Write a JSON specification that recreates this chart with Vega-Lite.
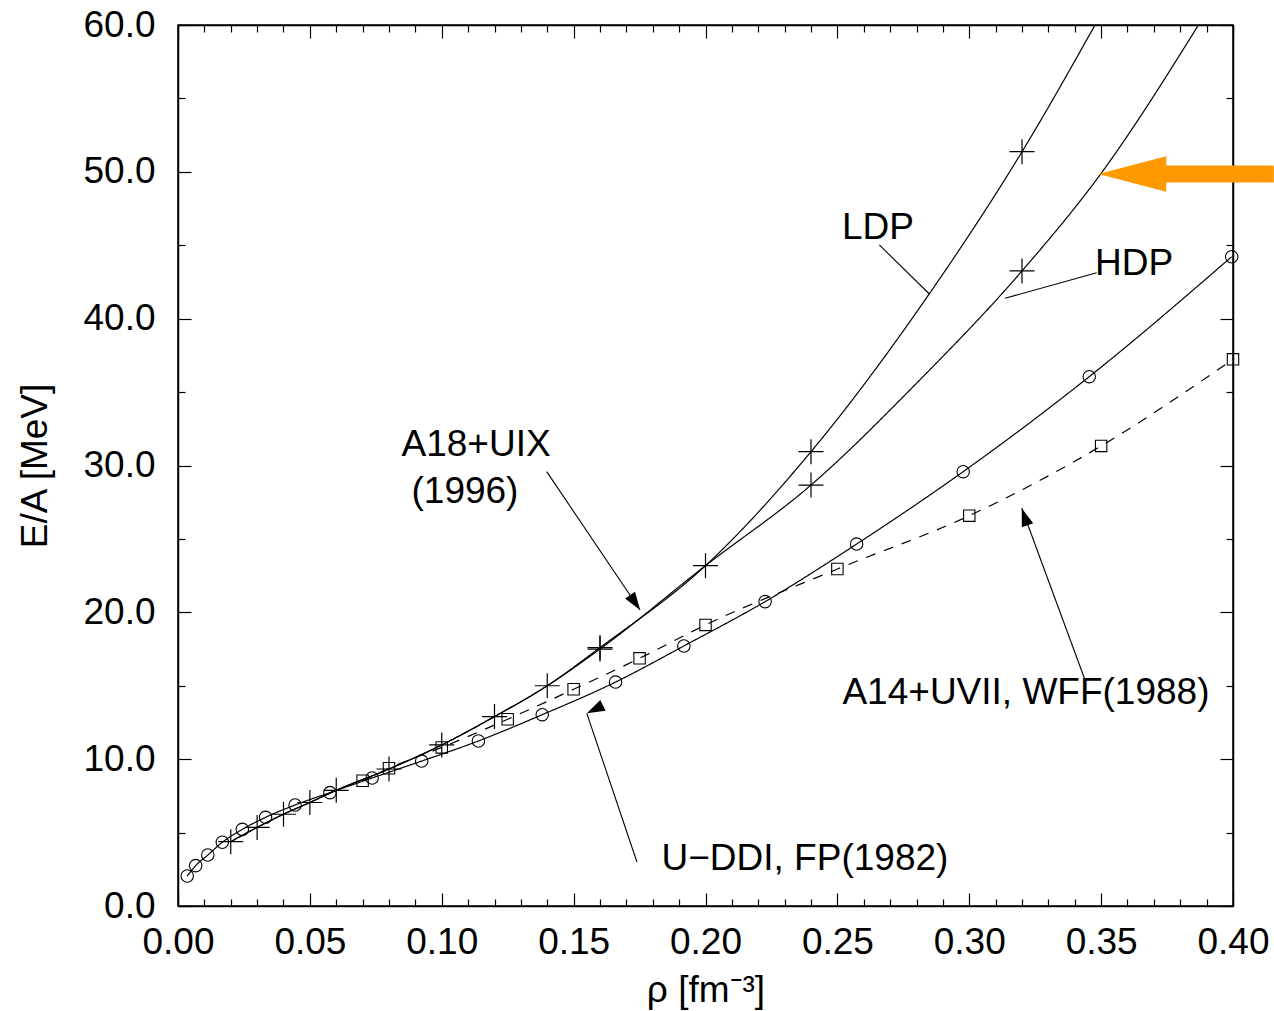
{
  "$schema": "https://vega.github.io/schema/vega-lite/v6.json",
  "width": 1055,
  "height": 881,
  "autosize": "none",
  "padding": {"left": 178, "top": 25, "right": 41, "bottom": 105},
  "background": "white",
  "config": {
    "view": {"stroke": "black", "strokeWidth": 1.5},
    "font": "Liberation Sans",
    "axis": {
      "domainColor": "black", "domainWidth": 1.5,
      "tickColor": "black", "tickWidth": 1.2,
      "labelColor": "black", "titleColor": "black", "grid": false,
      "labelFont": "Liberation Sans", "titleFont": "Liberation Sans",
      "labelFontSize": 37, "titleFontSize": 37, "titleFontWeight": "normal"
    }
  },
  "datasets": {
    "curves": [
      {"series": "LDP", "rho": 0.02, "E": 4.38},
      {"series": "LDP", "rho": 0.03, "E": 5.35},
      {"series": "LDP", "rho": 0.04, "E": 6.25},
      {"series": "LDP", "rho": 0.05, "E": 7.05},
      {"series": "LDP", "rho": 0.06, "E": 7.88},
      {"series": "LDP", "rho": 0.08, "E": 9.33},
      {"series": "LDP", "rho": 0.10, "E": 10.97},
      {"series": "LDP", "rho": 0.12, "E": 12.9},
      {"series": "LDP", "rho": 0.14, "E": 15.0},
      {"series": "LDP", "rho": 0.16, "E": 17.6},
      {"series": "LDP", "rho": 0.20, "E": 23.18},
      {"series": "LDP", "rho": 0.24, "E": 30.94},
      {"series": "LDP", "rho": 0.285, "E": 41.73},
      {"series": "LDP", "rho": 0.32, "E": 51.37},
      {"series": "LDP", "rho": 0.3477, "E": 60.0},
      {"series": "HDP", "rho": 0.02, "E": 4.38},
      {"series": "HDP", "rho": 0.03, "E": 5.35},
      {"series": "HDP", "rho": 0.04, "E": 6.25},
      {"series": "HDP", "rho": 0.05, "E": 7.05},
      {"series": "HDP", "rho": 0.06, "E": 7.88},
      {"series": "HDP", "rho": 0.08, "E": 9.33},
      {"series": "HDP", "rho": 0.10, "E": 10.97},
      {"series": "HDP", "rho": 0.12, "E": 12.9},
      {"series": "HDP", "rho": 0.14, "E": 15.0},
      {"series": "HDP", "rho": 0.16, "E": 17.5},
      {"series": "HDP", "rho": 0.20, "E": 23.18},
      {"series": "HDP", "rho": 0.24, "E": 28.67},
      {"series": "HDP", "rho": 0.28, "E": 35.6},
      {"series": "HDP", "rho": 0.32, "E": 43.25},
      {"series": "HDP", "rho": 0.3496, "E": 49.8},
      {"series": "HDP", "rho": 0.3869, "E": 60.0},
      {"series": "UDDI", "rho": 0.0035, "E": 2.04},
      {"series": "UDDI", "rho": 0.0067, "E": 2.75},
      {"series": "UDDI", "rho": 0.0113, "E": 3.47},
      {"series": "UDDI", "rho": 0.0168, "E": 4.34},
      {"series": "UDDI", "rho": 0.0244, "E": 5.22},
      {"series": "UDDI", "rho": 0.0332, "E": 6.04},
      {"series": "UDDI", "rho": 0.0444, "E": 6.88},
      {"series": "UDDI", "rho": 0.0576, "E": 7.72},
      {"series": "UDDI", "rho": 0.0736, "E": 8.72},
      {"series": "UDDI", "rho": 0.0924, "E": 9.87},
      {"series": "UDDI", "rho": 0.1139, "E": 11.24},
      {"series": "UDDI", "rho": 0.1381, "E": 13.03},
      {"series": "UDDI", "rho": 0.1659, "E": 15.25},
      {"series": "UDDI", "rho": 0.1918, "E": 17.71},
      {"series": "UDDI", "rho": 0.2226, "E": 20.73},
      {"series": "UDDI", "rho": 0.2573, "E": 24.65},
      {"series": "UDDI", "rho": 0.2977, "E": 29.58},
      {"series": "UDDI", "rho": 0.3455, "E": 36.05},
      {"series": "UDDI", "rho": 0.3995, "E": 44.22},
      {"series": "A14", "rho": 0.07, "E": 8.53},
      {"series": "A14", "rho": 0.08, "E": 9.38},
      {"series": "A14", "rho": 0.10, "E": 10.8},
      {"series": "A14", "rho": 0.125, "E": 12.72},
      {"series": "A14", "rho": 0.15, "E": 14.76},
      {"series": "A14", "rho": 0.175, "E": 16.87},
      {"series": "A14", "rho": 0.20, "E": 19.14},
      {"series": "A14", "rho": 0.25, "E": 22.95},
      {"series": "A14", "rho": 0.30, "E": 26.58},
      {"series": "A14", "rho": 0.35, "E": 31.33},
      {"series": "A14", "rho": 0.40, "E": 37.23}
    ],
    "markers": [
      {"series": "A18", "rho": 0.02, "E": 4.38},
      {"series": "A18", "rho": 0.03, "E": 5.35},
      {"series": "A18", "rho": 0.04, "E": 6.25},
      {"series": "A18", "rho": 0.05, "E": 7.05},
      {"series": "A18", "rho": 0.06, "E": 7.88},
      {"series": "A18", "rho": 0.08, "E": 9.33},
      {"series": "A18", "rho": 0.10, "E": 10.97},
      {"series": "A18", "rho": 0.12, "E": 12.9},
      {"series": "A18", "rho": 0.14, "E": 15.0},
      {"series": "A18", "rho": 0.16, "E": 17.6},
      {"series": "A18", "rho": 0.16, "E": 17.5},
      {"series": "A18", "rho": 0.20, "E": 23.18},
      {"series": "A18", "rho": 0.24, "E": 30.94},
      {"series": "A18", "rho": 0.24, "E": 28.67},
      {"series": "A18", "rho": 0.32, "E": 51.37},
      {"series": "A18", "rho": 0.32, "E": 43.25},
      {"series": "UDDI", "rho": 0.0035, "E": 2.04},
      {"series": "UDDI", "rho": 0.0067, "E": 2.75},
      {"series": "UDDI", "rho": 0.0113, "E": 3.47},
      {"series": "UDDI", "rho": 0.0168, "E": 4.34},
      {"series": "UDDI", "rho": 0.0244, "E": 5.22},
      {"series": "UDDI", "rho": 0.0332, "E": 6.04},
      {"series": "UDDI", "rho": 0.0444, "E": 6.88},
      {"series": "UDDI", "rho": 0.0576, "E": 7.72},
      {"series": "UDDI", "rho": 0.0736, "E": 8.72},
      {"series": "UDDI", "rho": 0.0924, "E": 9.87},
      {"series": "UDDI", "rho": 0.1139, "E": 11.24},
      {"series": "UDDI", "rho": 0.1381, "E": 13.03},
      {"series": "UDDI", "rho": 0.1659, "E": 15.25},
      {"series": "UDDI", "rho": 0.1918, "E": 17.71},
      {"series": "UDDI", "rho": 0.2226, "E": 20.73},
      {"series": "UDDI", "rho": 0.2573, "E": 24.65},
      {"series": "UDDI", "rho": 0.2977, "E": 29.58},
      {"series": "UDDI", "rho": 0.3455, "E": 36.05},
      {"series": "UDDI", "rho": 0.3995, "E": 44.22},
      {"series": "A14", "rho": 0.07, "E": 8.53},
      {"series": "A14", "rho": 0.08, "E": 9.38},
      {"series": "A14", "rho": 0.10, "E": 10.8},
      {"series": "A14", "rho": 0.125, "E": 12.72},
      {"series": "A14", "rho": 0.15, "E": 14.76},
      {"series": "A14", "rho": 0.175, "E": 16.87},
      {"series": "A14", "rho": 0.20, "E": 19.14},
      {"series": "A14", "rho": 0.25, "E": 22.95},
      {"series": "A14", "rho": 0.30, "E": 26.58},
      {"series": "A14", "rho": 0.35, "E": 31.33},
      {"series": "A14", "rho": 0.40, "E": 37.23}
    ],
    "arrows": [
      {"id": "A18", "rho": 0.1398, "E": 29.58, "rho2": 0.1752, "E2": 20.16},
      {"id": "UDDI", "rho": 0.1740, "E": 3.0, "rho2": 0.155, "E2": 13.12},
      {"id": "A14", "rho": 0.3439, "E": 15.39, "rho2": 0.3199, "E2": 27.09},
      {"id": "LDP", "rho": 0.2659, "E": 45.02, "rho2": 0.2849, "E2": 41.68},
      {"id": "HDP", "rho": 0.3483, "E": 43.13, "rho2": 0.3136, "E2": 41.39}
    ],
    "heads": [
      {"id": "A18", "rho": 0.1752, "E": 20.16},
      {"id": "UDDI", "rho": 0.155, "E": 13.12},
      {"id": "A14", "rho": 0.3199, "E": 27.09}
    ],
    "labels": [
      {"text": "LDP", "rho": 0.2654, "E": 45.4},
      {"text": "HDP", "rho": 0.3625, "E": 42.97},
      {"text": "A18+UIX", "rho": 0.113, "E": 30.65},
      {"text": "(1996)", "rho": 0.1088, "E": 27.45},
      {"text": "A14+UVII, WFF(1988)", "rho": 0.3215, "E": 13.76},
      {"text": "U−DDI, FP(1982)", "rho": 0.2377, "E": 2.45}
    ],
    "orange": [
      {"rho": 0.372, "rho2": 0.4155, "E": 49.85, "tip": 0.3618}
    ]
  },
  "layer": [
    {
      "data": {"name": "curves"},
      "mark": {"type": "line", "interpolate": "monotone", "color": "black", "strokeWidth": 1.2, "clip": true},
      "encoding": {
        "x": {"field": "rho", "type": "quantitative",
          "scale": {"domain": [0, 0.4], "nice": false, "zero": false},
          "axis": {
            "orient": "bottom",
            "values": [0,0.01,0.02,0.03,0.04,0.05,0.06,0.07,0.08,0.09,0.1,0.11,0.12,0.13,0.14,0.15,0.16,0.17,0.18,0.19,0.2,0.21,0.22,0.23,0.24,0.25,0.26,0.27,0.28,0.29,0.3,0.31,0.32,0.33,0.34,0.35,0.36,0.37,0.38,0.39,0.4],
            "format": ".2f",
            "labelExpr": "abs(round(datum.value*100)) % 5 == 0 ? datum.label : ''",
            "tickSize": {"condition": {"test": "abs(round(datum.value*100)) % 5 == 0", "value": -13}, "value": -7},
            "labelPadding": 31, "labelFlush": false, "labelOverlap": false,
            "title": "ρ [fm⁻³]", "titleY": 84, "titleBaseline": "middle"
          }
        },
        "y": {"field": "E", "type": "quantitative",
          "scale": {"domain": [0, 60], "nice": false, "zero": false},
          "axis": {
            "orient": "left",
            "values": [0,5,10,15,20,25,30,35,40,45,50,55,60],
            "format": ".1f",
            "labelExpr": "round(datum.value) % 10 == 0 ? datum.label : ''",
            "tickSize": {"condition": {"test": "round(datum.value) % 10 == 0", "value": -13}, "value": -7},
            "labelPadding": 36, "labelFlush": false, "labelOverlap": false,
            "title": "E/A [MeV]", "titleX": -143, "titleBaseline": "middle"
          }
        },
        "detail": {"field": "series"},
        "strokeDash": {"field": "series", "type": "nominal",
          "scale": {"domain": ["LDP", "HDP", "UDDI", "A14"], "range": [[1, 0], [1, 0], [1, 0], [10, 9]]},
          "legend": null}
      }
    },
    {
      "data": {"name": "markers"},
      "transform": [{"filter": "datum.series == 'A18'"}],
      "mark": {"type": "point", "filled": false, "stroke": "black", "strokeWidth": 1.2, "opacity": 1, "shape": "M-1,0L1,0M0,-1L0,1", "size": 625},
      "encoding": {
        "x": {"field": "rho", "type": "quantitative",
          "scale": {"domain": [0, 0.4], "nice": false, "zero": false},
          "axis": {
            "orient": "top",
            "values": [0,0.01,0.02,0.03,0.04,0.05,0.06,0.07,0.08,0.09,0.1,0.11,0.12,0.13,0.14,0.15,0.16,0.17,0.18,0.19,0.2,0.21,0.22,0.23,0.24,0.25,0.26,0.27,0.28,0.29,0.3,0.31,0.32,0.33,0.34,0.35,0.36,0.37,0.38,0.39,0.4],
            "labels": false,
            "tickSize": {"condition": {"test": "abs(round(datum.value*100)) % 5 == 0", "value": -13}, "value": -7},
            "title": null
          }
        },
        "y": {"field": "E", "type": "quantitative",
          "scale": {"domain": [0, 60], "nice": false, "zero": false},
          "axis": {
            "orient": "right",
            "values": [0,5,10,15,20,25,30,35,40,45,50,55,60],
            "labels": false,
            "tickSize": {"condition": {"test": "round(datum.value) % 10 == 0", "value": -13}, "value": -7},
            "title": null
          }
        }
      }
    },
    {
      "data": {"name": "markers"},
      "transform": [{"filter": "datum.series == 'UDDI'"}],
      "mark": {"type": "point", "filled": false, "stroke": "black", "strokeWidth": 1.1, "opacity": 1, "shape": "circle", "size": 155},
      "encoding": {
        "x": {"field": "rho", "type": "quantitative", "scale": {"domain": [0, 0.4], "nice": false, "zero": false}, "axis": null},
        "y": {"field": "E", "type": "quantitative", "scale": {"domain": [0, 60], "nice": false, "zero": false}, "axis": null}
      }
    },
    {
      "data": {"name": "markers"},
      "transform": [{"filter": "datum.series == 'A14'"}],
      "mark": {"type": "point", "filled": false, "stroke": "black", "strokeWidth": 1.1, "opacity": 1, "shape": "square", "size": 130},
      "encoding": {
        "x": {"field": "rho", "type": "quantitative", "scale": {"domain": [0, 0.4], "nice": false, "zero": false}, "axis": null},
        "y": {"field": "E", "type": "quantitative", "scale": {"domain": [0, 60], "nice": false, "zero": false}, "axis": null}
      }
    },
    {
      "data": {"name": "arrows"},
      "mark": {"type": "rule", "color": "black", "strokeWidth": 1.1},
      "encoding": {
        "x": {"field": "rho", "type": "quantitative", "scale": {"domain": [0, 0.4], "nice": false, "zero": false}, "axis": null},
        "y": {"field": "E", "type": "quantitative", "scale": {"domain": [0, 60], "nice": false, "zero": false}, "axis": null},
        "x2": {"field": "rho2"},
        "y2": {"field": "E2"}
      }
    },
    {
      "data": {"name": "heads"},
      "mark": {"type": "point", "filled": true, "color": "black", "opacity": 1, "strokeWidth": 0, "shape": "M0,0L-0.6,1.8L0.6,1.8Z", "size": 400},
      "encoding": {
        "x": {"field": "rho", "type": "quantitative", "scale": {"domain": [0, 0.4], "nice": false, "zero": false}, "axis": null},
        "y": {"field": "E", "type": "quantitative", "scale": {"domain": [0, 60], "nice": false, "zero": false}, "axis": null},
        "angle": {"field": "id", "type": "nominal",
          "scale": {"domain": ["A18", "UDDI", "A14"], "range": [146, 341.3, 339.8]},
          "legend": null}
      }
    },
    {
      "data": {"name": "labels"},
      "mark": {"type": "text", "font": "Liberation Sans", "fontSize": 37, "align": "center", "baseline": "alphabetic", "color": "black"},
      "encoding": {
        "x": {"field": "rho", "type": "quantitative", "scale": {"domain": [0, 0.4], "nice": false, "zero": false}, "axis": null},
        "y": {"field": "E", "type": "quantitative", "scale": {"domain": [0, 60], "nice": false, "zero": false}, "axis": null},
        "text": {"field": "text"}
      }
    },
    {
      "data": {"name": "orange"},
      "mark": {"type": "rule", "color": "#FF9900", "strokeWidth": 17, "strokeCap": "butt", "clip": false},
      "encoding": {
        "x": {"field": "rho", "type": "quantitative", "scale": {"domain": [0, 0.4], "nice": false, "zero": false}, "axis": null},
        "x2": {"field": "rho2"},
        "y": {"field": "E", "type": "quantitative", "scale": {"domain": [0, 60], "nice": false, "zero": false}, "axis": null}
      }
    },
    {
      "data": {"name": "orange"},
      "mark": {"type": "point", "filled": true, "color": "#FF9900", "opacity": 1, "strokeWidth": 0, "shape": "M-1,0L1,-0.52L1,0.52Z", "size": 4624, "clip": false},
      "encoding": {
        "x": {"field": "tip", "type": "quantitative", "scale": {"domain": [0, 0.4], "nice": false, "zero": false}, "axis": null},
        "y": {"field": "E", "type": "quantitative", "scale": {"domain": [0, 60], "nice": false, "zero": false}, "axis": null}
      }
    }
  ],
  "resolve": {"axis": {"x": "independent", "y": "independent"}}
}
